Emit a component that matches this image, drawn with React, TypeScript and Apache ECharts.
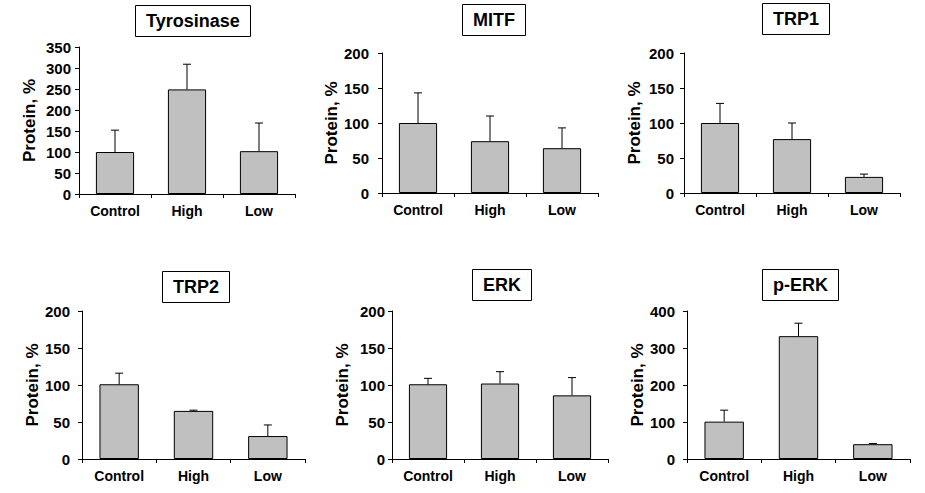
import React, { useEffect, useRef } from "react";
import * as echarts from "echarts";

const categories = ["Control", "High", "Low"];
const panelNames = ["Tyrosinase", "MITF", "TRP1", "TRP2", "ERK", "p-ERK"];

const tyrosinaseMean = [100, 249, 102];
const tyrosinaseSd = [52, 60, 67];
const mitfMean = [100, 74, 64];
const mitfSd = [43, 36, 29];
const trp1Mean = [100, 77, 23];
const trp1Sd = [28, 23, 4];
const trp2Mean = [101, 65, 31];
const trp2Sd = [15, 1, 15];
const erkMean = [101, 102, 86];
const erkSd = [8, 16, 24];
const perkMean = [101, 332, 40];
const perkSd = [31, 35, 2];

const means = [tyrosinaseMean, mitfMean, trp1Mean, trp2Mean, erkMean, perkMean];
const sds = [tyrosinaseSd, mitfSd, trp1Sd, trp2Sd, erkSd, perkSd];
const yMax = [350, 200, 200, 200, 200, 400];
const yInterval = [50, 50, 50, 50, 50, 100];
const yAxisName = "Protein, %";

const FONT = "'Liberation Sans', Arial, sans-serif";

const grids = [
  { left: 79, top: 47, width: 216, height: 147 },
  { left: 382, top: 53, width: 216, height: 140 },
  { left: 684, top: 53, width: 216, height: 140 },
  { left: 82, top: 311, width: 223, height: 148 },
  { left: 392, top: 311, width: 216, height: 148 },
  { left: 687, top: 311, width: 223, height: 148 },
];
const titlePos = [
  { left: 135, top: 5 },
  { left: 462, top: 4 },
  { left: 762, top: 3 },
  { left: 162, top: 271 },
  { left: 472, top: 269 },
  { left: 762, top: 269 },
];
const labelMargins = [8, 13, 10, 12, 7, 12];

export default function App() {
  const ref = useRef<HTMLDivElement>(null);
  useEffect(() => {
    document.body.style.margin = "0";
    if (!ref.current) return;
    const chart = echarts.init(ref.current, undefined, { renderer: "svg" });
    const xAxis: any[] = [];
    const yAxis: any[] = [];
    const series: any[] = [];
    const title: any[] = [];
    panelNames.forEach((name, i) => {
      title.push({
        text: name,
        left: titlePos[i].left,
        top: titlePos[i].top,
        padding: [7, 11],
        borderColor: "#000",
        borderWidth: 1,
        textStyle: { fontFamily: FONT, fontWeight: "bold", fontSize: 18, color: "#000" },
      });
      xAxis.push({
        type: "category",
        gridIndex: i,
        data: categories,
        axisLine: { lineStyle: { color: "#000", width: 1 } },
        axisTick: { show: true, length: 4, lineStyle: { color: "#000" } },
        axisLabel: { fontFamily: FONT, fontWeight: "bold", fontSize: 14, color: "#000", margin: 10 },
      });
      yAxis.push({
        type: "value",
        gridIndex: i,
        min: 0,
        max: yMax[i],
        interval: yInterval[i],
        name: yAxisName,
        nameLocation: "middle",
        nameGap: 41,
        nameTextStyle: { fontFamily: FONT, fontWeight: "bold", fontSize: 17, color: "#000" },
        axisLine: { show: true, lineStyle: { color: "#000", width: 1 } },
        axisTick: { show: true, length: 4, lineStyle: { color: "#000" } },
        splitLine: { show: false },
        axisLabel: { fontFamily: FONT, fontWeight: "bold", fontSize: 15, color: "#000", margin: labelMargins[i] },
      });
      series.push({
        type: "bar",
        xAxisIndex: i,
        yAxisIndex: i,
        data: means[i],
        barWidth: "53%",
        itemStyle: { color: "#C0C0C0", borderColor: "#000", borderWidth: 1 },
        z: 2,
      });
      series.push({
        type: "custom",
        xAxisIndex: i,
        yAxisIndex: i,
        data: means[i].map((m, j) => [j, m, sds[i][j]]),
        encode: { x: 0, y: 1 },
        z: 3,
        renderItem: (params: any, api: any) => {
          const x = api.value(0);
          const v = api.value(1);
          const e = api.value(2);
          const p0 = api.coord([x, v]);
          const p1 = api.coord([x, v + e]);
          return {
            type: "group",
            children: [
              {
                type: "line",
                shape: { x1: p0[0], y1: p0[1], x2: p1[0], y2: p1[1] },
                style: { stroke: "#000", lineWidth: 1 },
              },
              {
                type: "line",
                shape: { x1: p1[0] - 4, y1: p1[1], x2: p1[0] + 4, y2: p1[1] },
                style: { stroke: "#000", lineWidth: 1 },
              },
            ],
          };
        },
      });
    });
    chart.setOption({
      animation: false,
      backgroundColor: "#fff",
      title,
      grid: grids,
      xAxis,
      yAxis,
      series,
    });
    return () => chart.dispose();
  }, []);
  return <div ref={ref} style={{ width: 925, height: 493 }} />;
}
